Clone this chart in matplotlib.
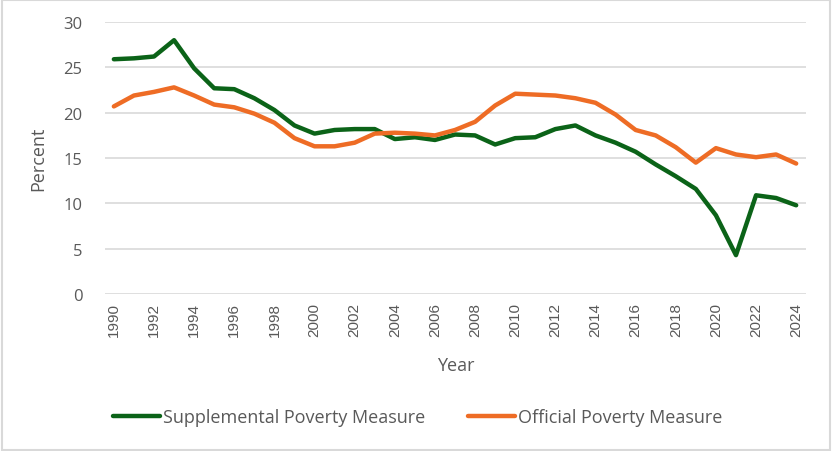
import numpy as np
import matplotlib.pyplot as plt
from matplotlib.patches import Rectangle

plt.rcParams['font.family'] = ['Open Sans', 'DejaVu Sans']

years = list(range(1990, 2025))
spm = [25.9, 26.0, 26.2, 28.0, 24.9, 22.7, 22.6, 21.6, 20.3, 18.6,
       17.7, 18.1, 18.2, 18.2, 17.1, 17.3, 17.0, 17.6, 17.5, 16.5,
       17.2, 17.3, 18.2, 18.6, 17.5, 16.7, 15.7, 14.3, 13.0, 11.6,
       8.7, 4.3, 10.9, 10.6, 9.8]
opm = [20.7, 21.9, 22.3, 22.8, 21.9, 20.9, 20.6, 19.9, 18.9, 17.2,
       16.3, 16.3, 16.7, 17.7, 17.8, 17.7, 17.5, 18.1, 19.0, 20.8,
       22.1, 22.0, 21.9, 21.6, 21.1, 19.8, 18.1, 17.5, 16.2, 14.5,
       16.1, 15.4, 15.1, 15.4, 14.4]
xticks = years[::2]
yticks = [0, 5, 10, 15, 20, 25, 30]

green = '#0B6318'
orange = '#EE6C25'
txt = '#595959'

fig = plt.figure(figsize=(8.32, 4.52), dpi=100)
ax = fig.add_axes([0.126, 0.347, 0.843, 0.602])

ax.plot(years, spm, color=green, lw=3.2, label='Supplemental Poverty Measure', solid_capstyle='round')
ax.plot(years, opm, color=orange, lw=3.2, label='Official Poverty Measure', solid_capstyle='round')

ax.set_xlim(1989.55, 2024.5)
ax.set_ylim(0, 30)
ax.set_yticks(yticks)
ax.set_xticks(xticks)
ax.set_xticklabels([str(y) for y in xticks], rotation=90, fontsize=11, color=txt,
                   family=['Liberation Sans', 'DejaVu Sans'])
ax.set_yticklabels([str(y) for y in yticks], fontsize=12, color=txt)
ax.tick_params(axis='y', length=0, pad=16)
ax.tick_params(axis='x', length=0, pad=6)
ax.grid(axis='y', color='#D9D9D9', lw=1.2)
ax.set_axisbelow(True)
for s in ax.spines.values():
    s.set_visible(False)

ax.set_ylabel('Percent', fontsize=13, color=txt, labelpad=12)
ax.set_xlabel('Year', fontsize=13, color=txt, labelpad=14)

leg = fig.legend(loc='center', bbox_to_anchor=(0.502, 0.075), ncol=2, frameon=False,
                 fontsize=13, handlelength=2.6, handletextpad=0.15, columnspacing=2.4)
for t in leg.get_texts():
    t.set_color(txt)

fig.patches.append(Rectangle((0.002, 0.003), 0.995, 0.994, transform=fig.transFigure,
                             fill=False, edgecolor='#D9D9D9', lw=1.5))

fig.savefig('out.png', dpi=100)
